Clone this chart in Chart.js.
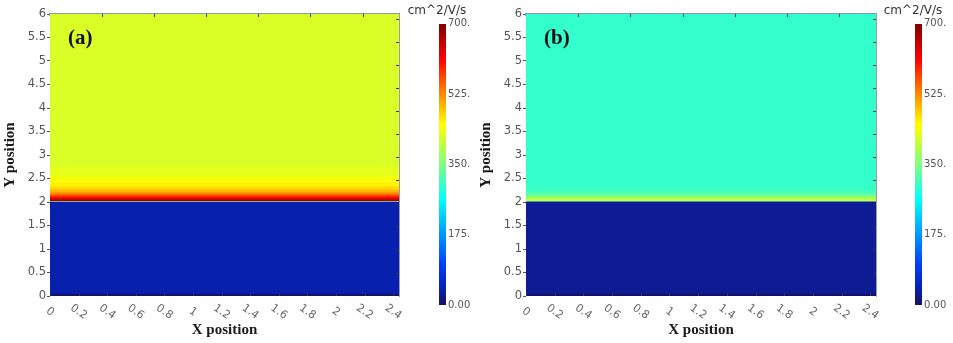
<!DOCTYPE html>
<html>
<head>
<meta charset="utf-8">
<title>Mobility maps</title>
<script src="https://cdn.jsdelivr.net/npm/chart.js@4.4.1/dist/chart.umd.min.js"></script>
<style>
  html, body { margin: 0; padding: 0; background: #fff; }
  #wrap { position: relative; width: 953px; height: 343px; }
  .panel { position: absolute; top: 0; height: 343px; }
</style>
</head>
<body>
<div id="wrap">
  <div class="panel" style="left:0;width:476px"><canvas id="mapA"></canvas></div>
  <div class="panel" style="left:399px;width:76px"><canvas id="barA"></canvas></div>
  <div class="panel" style="left:476px;width:477px"><canvas id="mapB"></canvas></div>
  <div class="panel" style="left:875px;width:76px"><canvas id="barB"></canvas></div>
</div>
<script>
// device cross-section extent
const xSpan = [0, 2.44];
const xTicks = [0, 0.2, 0.4, 0.6, 0.8, 1, 1.2, 1.4, 1.6, 1.8, 2, 2.2, 2.4];
const yTicks = [0, 0.5, 1, 1.5, 2, 2.5, 3, 3.5, 4, 4.5, 5, 5.5, 6];

// mobility profile: upper edge of each horizontal layer (bottom up) and its value
const bandTopsA = [0.05, 2.0, 2.015, 2.05, 2.08, 2.11, 2.14, 2.17, 2.21, 2.26, 2.33, 2.42, 2.55, 2.75, 6];
const mobilityA = [5, 39, 330, 675, 640, 605, 575, 548, 522, 497, 475, 458, 442, 430, 420];

const bandTopsB = [0.05, 2.0, 2.015, 2.05, 2.09, 2.13, 2.18, 2.25, 2.4, 6];
const mobilityB = [5, 26, 150, 420, 392, 360, 332, 310, 300, 297];

// colour bar
const mobilityRange = [0, 700];
const cbTicks = [0, 175, 350, 525, 700];
const cbLabels = ['0.00', '175.', '350.', '525.', '700.'];

// jet-like lookup table (value -> rgb)
const cmapStops = [
  [0, [25, 15, 100]],
  [45, [5, 35, 185]],
  [100, [0, 60, 255]],
  [262, [0, 255, 255]],
  [350, [128, 255, 128]],
  [450, [255, 255, 0]],
  [612, [255, 0, 0]],
  [700, [128, 0, 0]]
];

function rgb(c) {
  return 'rgb(' + c.map(Math.round).join(',') + ')';
}

function mobilityColor(v) {
  for (let i = 1; i < cmapStops.length; i++) {
    const [v0, c0] = cmapStops[i - 1];
    const [v1, c1] = cmapStops[i];
    if (v <= v1) {
      const f = Math.max(0, (v - v0) / (v1 - v0));
      return rgb(c0.map((c, k) => c + (c1[k] - c) * f));
    }
  }
  return rgb(cmapStops[cmapStops.length - 1][1]);
}

function fmtTick(v) {
  return String(+Number(v).toFixed(1));
}

// inner tick marks, slanted x labels and the panel tag
const frameDecor = {
  id: 'frameDecor',
  afterDraw(chart, args, opts) {
    const { ctx, chartArea: a, scales } = chart;
    ctx.save();
    ctx.strokeStyle = '#333';
    ctx.lineWidth = 1;
    ctx.beginPath();
    scales.x.ticks.forEach(t => {
      const px = Math.round(scales.x.getPixelForValue(t.value)) + 0.5;
      ctx.moveTo(px, a.bottom);
      ctx.lineTo(px, a.bottom - 3);
    });
    scales.x2.ticks.forEach(t => {
      const px = Math.round(scales.x2.getPixelForValue(t.value)) + 0.5;
      ctx.moveTo(px, a.top);
      ctx.lineTo(px, a.top + 3);
    });
    scales.y2.ticks.forEach(t => {
      const py = Math.round(scales.y2.getPixelForValue(t.value)) + 0.5;
      ctx.moveTo(a.right, py);
      ctx.lineTo(a.right - 3, py);
    });
    ctx.stroke();

    ctx.fillStyle = '#666';
    ctx.font = '11px "DejaVu Sans"';
    ctx.textAlign = 'center';
    ctx.textBaseline = 'middle';
    scales.x.ticks.forEach(t => {
      const px = scales.x.getPixelForValue(t.value);
      ctx.save();
      ctx.translate(px, a.bottom + 16);
      ctx.rotate(35 * Math.PI / 180);
      ctx.fillText(fmtTick(t.value), 0, 0);
      ctx.restore();
    });

    ctx.fillStyle = '#111';
    ctx.font = 'bold 21px "Liberation Serif"';
    ctx.textAlign = 'left';
    ctx.textBaseline = 'alphabetic';
    ctx.fillText(opts.tag, a.left + 18, a.top + 30);
    ctx.restore();
  }
};

function makeMap(id, tops, values, tag) {
  // each layer is filled from its upper edge down to y = 0; lower layers paint on top
  const datasets = tops.map((top, i) => ({
    data: [{ x: xSpan[0], y: top }, { x: xSpan[1], y: top }],
    fill: { value: 0 },
    backgroundColor: mobilityColor(values[i]),
    borderColor: 'transparent',
    borderWidth: 0,
    pointRadius: 0,
    tension: 0
  }));

  return new Chart(document.getElementById(id), {
    type: 'line',
    data: { datasets },
    plugins: [frameDecor],
    options: {
      responsive: true,
      maintainAspectRatio: false,
      animation: false,
      events: [],
      layout: { padding: 0 },
      plugins: {
        legend: { display: false },
        tooltip: { enabled: false },
        frameDecor: { tag }
      },
      scales: {
        x: {
          type: 'linear',
          position: 'bottom',
          min: xSpan[0],
          max: xSpan[1],
          afterBuildTicks: s => { s.ticks = xTicks.map(v => ({ value: v })); },
          afterFit: s => { s.height = 47; },
          ticks: { display: false },
          grid: { display: false },
          border: { display: false },
          title: {
            display: true,
            text: 'X position',
            color: '#1a1a1a',
            font: { family: '"Liberation Serif"', size: 15, weight: 'bold' },
            padding: { top: 0, bottom: 4 }
          }
        },
        x2: {
          type: 'linear',
          position: 'top',
          min: 0,
          max: 6.7,
          afterBuildTicks: s => { s.ticks = [1, 2, 3, 4, 5, 6].map(v => ({ value: v })); },
          afterFit: s => { s.height = 14; },
          ticks: { display: false },
          grid: { display: false },
          border: { display: true, color: '#8d8fcc', width: 3 }
        },
        y: {
          type: 'linear',
          position: 'left',
          min: 0,
          max: 6,
          afterBuildTicks: s => { s.ticks = yTicks.map(v => ({ value: v })); },
          afterFit: s => { s.width = 50; },
          ticks: {
            callback: v => fmtTick(v),
            color: '#555',
            padding: 1,
            font: { family: '"DejaVu Sans"', size: 11.5 }
          },
          grid: { drawOnChartArea: false, tickLength: 3, color: '#555' },
          border: { display: false },
          title: {
            display: true,
            text: 'Y position',
            color: '#1a1a1a',
            font: { family: '"Liberation Serif"', size: 15, weight: 'bold' },
            padding: { top: 1, bottom: 0 }
          }
        },
        y2: {
          type: 'linear',
          position: 'right',
          min: 0,
          max: 12.2,
          afterBuildTicks: s => { s.ticks = [1, 2, 3, 4, 5, 6, 7, 8, 9, 10, 11, 12].map(v => ({ value: v })); },
          afterFit: s => { s.width = 77; },
          ticks: { display: false },
          grid: { display: false },
          border: { display: true, color: '#9a9ab4', width: 1 }
        }
      }
    }
  });
}

function barGradient(chart) {
  const y = chart.scales.y;
  if (!y || !chart.chartArea) return 'transparent';
  const g = chart.ctx.createLinearGradient(0, y.getPixelForValue(mobilityRange[0]), 0, y.getPixelForValue(mobilityRange[1]));
  const span = mobilityRange[1] - mobilityRange[0];
  cmapStops.forEach(([v, c]) => g.addColorStop((v - mobilityRange[0]) / span, rgb(c)));
  return g;
}

function makeColorbar(id) {
  return new Chart(document.getElementById(id), {
    type: 'bar',
    data: {
      labels: ['mobility'],
      datasets: [{
        data: [[mobilityRange[0], mobilityRange[1]]],
        backgroundColor: ctx => barGradient(ctx.chart),
        borderWidth: 0,
        barPercentage: 1,
        categoryPercentage: 1
      }]
    },
    options: {
      responsive: true,
      maintainAspectRatio: false,
      animation: false,
      events: [],
      layout: { padding: { bottom: 38 } },
      plugins: {
        legend: { display: false },
        tooltip: { enabled: false },
        title: {
          display: true,
          text: 'cm^2/V/s',
          color: '#333',
          font: { family: '"DejaVu Sans"', size: 12, weight: 'normal' },
          padding: { top: 3.5, bottom: 6 }
        }
      },
      scales: {
        x: { display: false },
        // empty spacer on the left so the bar sits next to its labels
        gap: {
          type: 'linear',
          position: 'left',
          afterFit: s => { s.width = 40; },
          ticks: { display: false },
          grid: { display: false },
          border: { display: false }
        },
        y: {
          position: 'right',
          min: mobilityRange[0],
          max: mobilityRange[1],
          afterBuildTicks: s => { s.ticks = cbTicks.map(v => ({ value: v })); },
          afterFit: s => { s.width = 29; },
          ticks: {
            callback: (v, i) => cbLabels[i],
            color: '#555',
            padding: 2,
            font: { family: '"DejaVu Sans"', size: 10 }
          },
          grid: { display: false, drawTicks: false },
          border: { display: false }
        }
      }
    }
  });
}

makeMap('mapA', bandTopsA, mobilityA, '(a)');
makeMap('mapB', bandTopsB, mobilityB, '(b)');
makeColorbar('barA');
makeColorbar('barB');
</script>
</body>
</html>
